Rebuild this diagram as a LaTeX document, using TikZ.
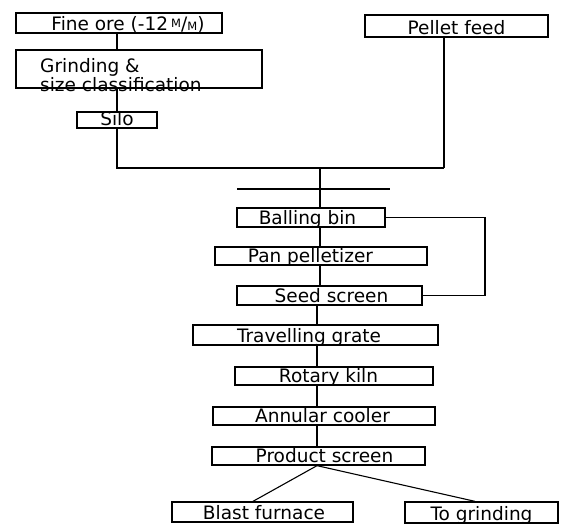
\documentclass[tikz,border=0pt]{standalone}
\usepackage{fontspec}
\setmainfont{DejaVu Sans}
\begin{document}
\tikzset{
  box/.style={draw, line width=1.3pt, inner sep=0pt, text depth=2.5pt, align=center,
    font=\fontsize{18.5}{15}\selectfont},
  lbl/.style={inner sep=0pt, align=left, font=\fontsize{18.5}{15}\selectfont},
  link/.style={line width=1.1pt},
}
\begin{tikzpicture}[x=1pt,y=-1pt]
\useasboundingbox (0,0) rectangle (563,529);
% boxes
\node[box, minimum width=206pt, minimum height=20pt, text height=17.5pt] (fine) at (119,23)
  {\hspace*{18pt}Fine ore (-12\,\raisebox{3pt}{\fontsize{11.5}{11}\selectfont M}/\raisebox{-0.5pt}{\fontsize{11.5}{11}\selectfont M})};
\node[box, minimum width=246pt, minimum height=38pt] (grind) at (139,69) {};
\node[lbl, anchor=north west] (grindtxt) at (40,58) {Grinding \&\\size classification};
\node[box, minimum width=80pt, minimum height=16pt, text height=13.5pt] (silo) at (117,120) {Silo};
\node[box, minimum width=183pt, minimum height=22pt, text height=19.5pt] (pellet) at (456.5,26) {Pellet feed};
\node[box, minimum width=148pt, minimum height=19pt, text height=16.5pt] (balling) at (311,217.5) {Balling bin\hspace*{7pt}};
\node[box, minimum width=212pt, minimum height=18pt, text height=15.5pt] (pan) at (321,256) {Pan pelletizer\hspace*{21pt}};
\node[box, minimum width=185pt, minimum height=19pt, text height=16.5pt] (seed) at (329.5,295.5) {\hspace*{4pt}Seed screen};
\node[box, minimum width=245pt, minimum height=20pt, text height=17.5pt] (travel) at (315.5,335) {Travelling grate\hspace*{13pt}};
\node[box, minimum width=198pt, minimum height=18pt, text height=15.5pt] (kiln) at (334,376) {Rotary kiln\hspace*{11pt}};
\node[box, minimum width=222pt, minimum height=18pt, text height=15.5pt] (cooler) at (324,416) {Annular cooler\hspace*{3pt}};
\node[box, minimum width=213pt, minimum height=18pt, text height=15.5pt] (product) at (318.5,456) {\hspace*{12pt}Product screen};
\node[box, minimum width=181pt, minimum height=20pt, text height=17.5pt] (blast) at (262.5,512) {\hspace*{3pt}Blast furnace};
\node[box, minimum width=153pt, minimum height=21pt, text height=18.5pt] (togrind) at (481.5,512.5) {To grinding};
% helper coordinates
\coordinate (pj) at (444,168);
\coordinate (jn) at (320,168);
\coordinate (barL) at (237,189);
\coordinate (barR) at (390,189);
\coordinate (loop) at (485,220);
\coordinate (ax) at (317,0);
% connectors
\draw[link] (silo.north |- fine.south) -- (silo.north |- grind.north);
\draw[link] (silo.north |- grind.south) -- (silo.north);
\draw[link] (silo.south) |- (pj);
\draw[link] (pellet.south -| pj) -- (pj);
\draw[link] (jn) -- (jn |- balling.north);
\draw[link] (barL) -- (barR);
\draw[link] (balling.east) -- (balling.east -| loop) -- (seed.east -| loop) -- (seed.east);
\draw[link] (jn |- balling.south) -- (jn |- pan.north);
\draw[link] (jn |- pan.south) -- (jn |- seed.north);
\draw[link] (ax |- seed.south) -- (ax |- travel.north);
\draw[link] (ax |- travel.south) -- (ax |- kiln.north);
\draw[link] (ax |- kiln.south) -- (ax |- cooler.north);
\draw[link] (ax |- cooler.south) -- (ax |- product.north);
\draw[link] (ax |- product.south) -- ([xshift=-9.5pt]blast.north);
\draw[link] (ax |- product.south) -- ([xshift=-6.5pt]togrind.north);
\end{tikzpicture}
\end{document}
